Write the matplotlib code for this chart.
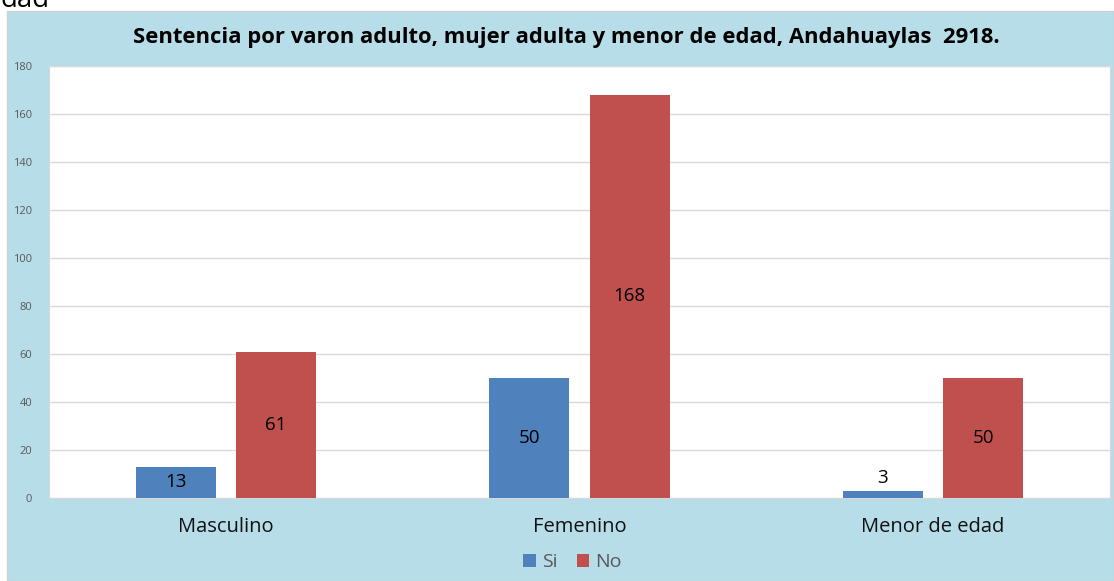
import matplotlib
matplotlib.use("Agg")
import matplotlib.pyplot as plt
import numpy as np
from matplotlib.patches import Rectangle

categories = ["Masculino", "Femenino", "Menor de edad"]
si_values = [13, 50, 3]
no_values = [61, 168, 50]
y_ticks = list(range(0, 181, 20))

W, H = 1114, 581
fig = plt.figure(figsize=(W / 100, H / 100), dpi=100, facecolor="white")
plt.rcParams["font.family"] = ["Open Sans", "DejaVu Sans"]

# light blue chart panel behind the axes
fig.patches.append(Rectangle((7 / W, 0), 1 - 7 / W, 1 - 11 / H,
                             transform=fig.transFigure, facecolor="#B7DDE8",
                             edgecolor="#D0D0D0", linewidth=1, zorder=-5))
# leftover text from the page above, cut off at the top
fig.text(0.0, 1.0, "dad", fontsize=20, va="center", ha="left", color="black")

ax = fig.add_axes([49 / W, 83 / H, 1061 / W, 432 / H])
ax.set_zorder(2)
ax.set_facecolor("white")

x = np.arange(len(categories))
width = 0.226
offset = 0.142
blue = "#4F81BD"
red = "#C0504D"
b1 = ax.bar(x - offset, si_values, width, color=blue, label="Si", zorder=3)
b2 = ax.bar(x + offset, no_values, width, color=red, label="No", zorder=3)

for bars, vals in ((b1, si_values), (b2, no_values)):
    for rect, v in zip(bars, vals):
        cx = rect.get_x() + rect.get_width() / 2
        if v < 8:
            ax.text(cx, v + 1.5, str(v), ha="center", va="bottom", fontsize=13.5, color="black", zorder=4)
        else:
            ax.text(cx, v / 2, str(v), ha="center", va="center", fontsize=13.5, color="black", zorder=4)

ax.set_xlim(-0.5, 2.5)
ax.set_ylim(0, 180)
ax.set_yticks(y_ticks)
ax.tick_params(axis="y", labelsize=8, labelcolor="#595959", length=0, pad=12)
ax.set_xticks(x)
ax.set_xticklabels(categories, fontsize=14.5, color="#111111")
ax.tick_params(axis="x", length=0, pad=14)
ax.grid(axis="y", color="#D9D9D9", linewidth=1, zorder=0)
ax.set_axisbelow(True)
for s in ax.spines.values():
    s.set_color("#D9D9D9")

fig.text(0.508, 1 - 37 / H, "Sentencia por varon adulto, mujer adulta y menor de edad, Andahuaylas  2918.",
         ha="center", va="center", fontsize=15.8, fontweight="bold", color="black")

fig.legend(handles=[b1, b2], labels=["Si", "No"], loc="center", bbox_to_anchor=(0.514, 1 - 562 / H),
           ncol=2, frameon=False, fontsize=14, handlelength=0.65, handleheight=0.65,
           handletextpad=0.3, columnspacing=1.0, labelcolor="#595959")

fig.savefig("out.png", dpi=100, facecolor="white")
